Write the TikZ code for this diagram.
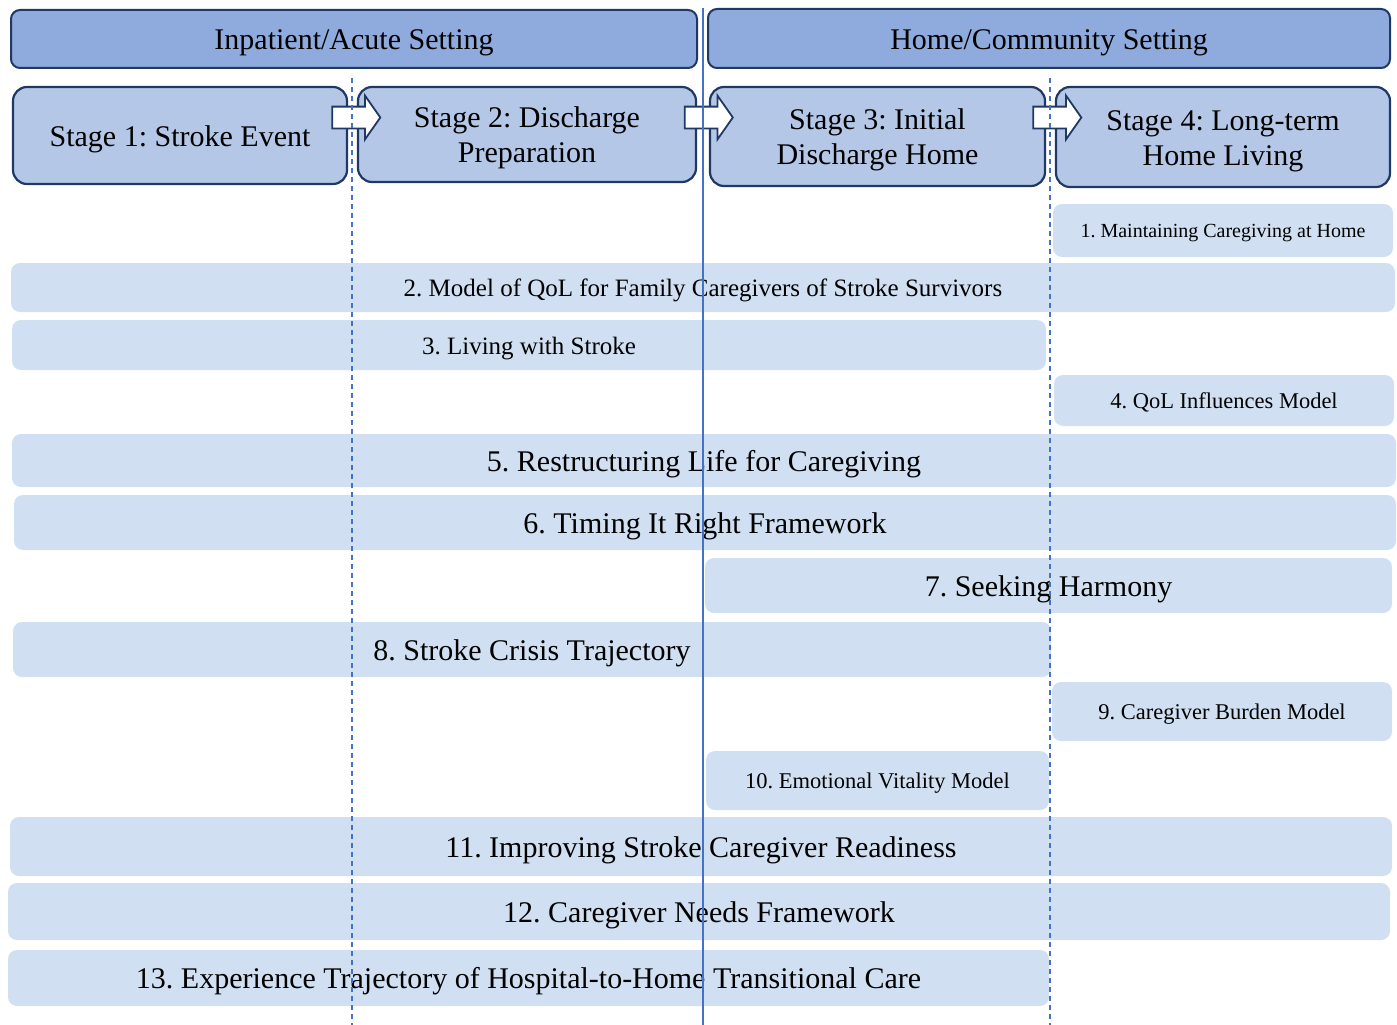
\documentclass[tikz,border=0pt]{standalone}
\usepackage{fontspec}
\setmainfont{Liberation Serif}
\usetikzlibrary{shapes.arrows}
\definecolor{navy}{HTML}{203864}
\definecolor{hdrblue}{HTML}{8FAADC}
\definecolor{stgblue}{HTML}{B4C7E7}
\definecolor{barblue}{HTML}{D0E0F2}
\definecolor{linblue}{HTML}{4472C4}
\newcommand{\txtbig}{\fontsize{30}{35}\selectfont}
\newcommand{\txtmid}{\fontsize{25}{29}\selectfont}
\newcommand{\txtsml}{\fontsize{22.5}{26}\selectfont}
\newcommand{\txttny}{\fontsize{20}{24}\selectfont}
\frenchspacing
\begin{document}
\begin{tikzpicture}[x=1pt, y=-1pt,
    setting/.style={draw=navy, line width=2pt, fill=hdrblue, rounded corners=9pt, inner sep=0pt, font=\txtbig, text height=27pt, text depth=6pt},
    stagebox/.style={draw=navy, line width=2.2pt, fill=stgblue, rounded corners=14pt, inner sep=0pt, align=center, font=\txtbig, text height=62pt, text depth=6pt},
    stagearrow/.style={single arrow, draw=navy, line width=1.8pt, fill=white, inner sep=10pt, minimum height=48pt, single arrow head extend=11pt, single arrow tip angle=110},
    model/.style={fill=barblue, rounded corners=9pt, inner sep=0pt},
    modelbig/.style={model, font=\txtbig, text height=27pt, text depth=6pt},
    modelmid/.style={model, font=\txtmid, text height=22.5pt, text depth=4.5pt},
    modelsml/.style={model, font=\txtsml, text height=20pt, text depth=5pt},
    modeltny/.style={model, font=\txttny, text height=18pt, text depth=4pt},
    sepline/.style={draw=linblue, line width=1.1pt},
    stageline/.style={draw=linblue, line width=1.1pt, dash pattern=on 5pt off 4pt}]
    \useasboundingbox (0,0) rectangle (1397,1025);
    % settings
    \node[setting, minimum width=686pt, minimum height=58pt] (acute) at (354,39) {Inpatient/Acute Setting};
    \node[setting, minimum width=682pt, minimum height=59pt] (home) at (1049,38.5) {Home/Community Setting};
    % stages
    \node[stagebox, minimum width=334pt, minimum height=97pt, text height=27pt, text depth=6pt] (s1) at (180,135.5) {Stage 1: Stroke Event};
    \node[stagebox, minimum width=338pt, minimum height=95pt] (s2) at (527,134.5) {Stage 2: Discharge\\Preparation};
    \node[stagebox, minimum width=335pt, minimum height=99pt] (s3) at (877.5,136.5) {Stage 3: Initial\\Discharge Home};
    \node[stagebox, minimum width=334pt, minimum height=100pt] (s4) at (1223,137) {Stage 4: Long-term\\Home Living};
    % models
    \node[modeltny, minimum width=340pt, minimum height=53pt] (m1) at (1223,230.5) {1. Maintaining Caregiving at Home};
    \node[modelmid, minimum width=1384pt, minimum height=49pt] (m2) at (703,287.5) {2. Model of QoL for Family Caregivers of Stroke Survivors};
    \node[modelmid, minimum width=1034pt, minimum height=50pt] (m3) at (529,345) {3. Living with Stroke};
    \node[modelsml, minimum width=340pt, minimum height=51pt] (m4) at (1224,400.5) {4. QoL Influences Model};
    \node[modelbig, minimum width=1384pt, minimum height=53pt] (m5) at (704,460.5) {5. Restructuring Life for Caregiving};
    \node[modelbig, minimum width=1382pt, minimum height=55pt] (m6) at (705,522.5) {6. Timing It Right Framework};
    \node[modelbig, minimum width=687pt, minimum height=55pt] (m7) at (1048.5,585.5) {7. Seeking Harmony};
    \node[modelbig, minimum width=1038pt, minimum height=55pt] (m8) at (532,649.5) {8. Stroke Crisis Trajectory};
    \node[modelsml, minimum width=340pt, minimum height=59pt] (m9) at (1222,711.5) {9. Caregiver Burden Model};
    \node[modelsml, minimum width=343pt, minimum height=59pt] (m10) at (877.5,780.5) {10. Emotional Vitality Model};
    \node[modelbig, minimum width=1382pt, minimum height=59pt] (m11) at (701,846.5) {11. Improving Stroke Caregiver Readiness};
    \node[modelbig, minimum width=1382pt, minimum height=57pt] (m12) at (699,911.5) {12. Caregiver Needs Framework};
    \node[modelbig, minimum width=1041pt, minimum height=56pt] (m13) at (528.5,978) {13. Experience Trajectory of Hospital-to-Home Transitional Care};
    % arrows between stages
    \node[stagearrow] (a12) at (352.5,117.5) {};
    \node[stagearrow] (a23) at (705,117.5) {};
    \node[stagearrow] (a34) at (1053.5,117.5) {};
    % separators
    \draw[sepline] (703,8) -- (703,1025);
    \draw[stageline] (352,78) -- (352,1025);
    \draw[stageline] (1050,78) -- (1050,1025);
\end{tikzpicture}
\end{document}
